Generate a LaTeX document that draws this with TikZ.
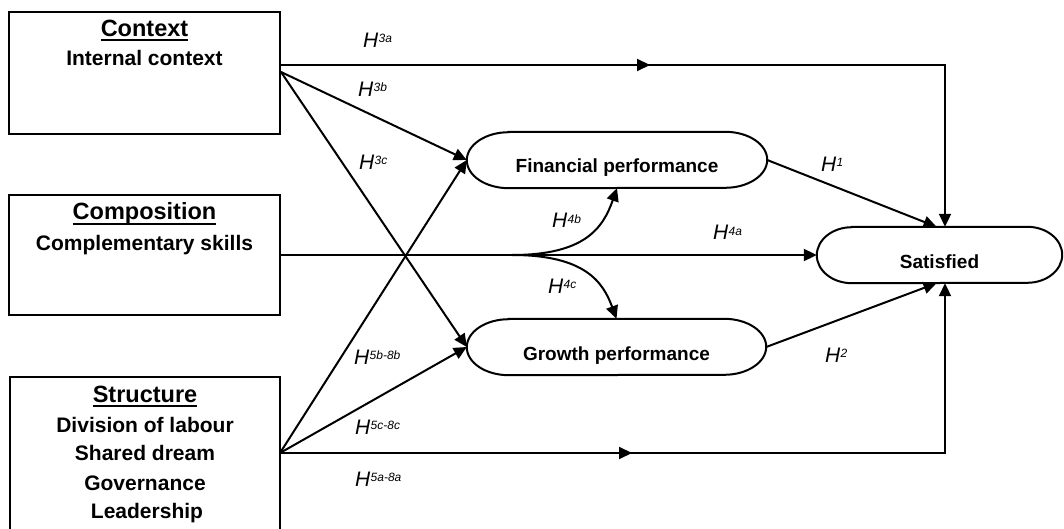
\documentclass[tikz,border=0pt]{standalone}
\usepackage{fontspec}
\setmainfont{Liberation Sans}
\usetikzlibrary{arrows.meta,calc,decorations.markings}

\newcommand\hdul[1]{\setbox0\hbox{#1}\rlap{\rule[-4.5pt]{\wd0}{2pt}}\box0}
\newcommand\hyp[1]{\fontsize{21}{21}\selectfont\itshape H\kern0.3pt\raisebox{5pt}{\fontsize{12}{12}\selectfont #1}}
\newcommand\pillframe[3]{%
  \draw[conn] ($(#1.north west)+(#2,0)$) -- ($(#1.north east)+(-#2,0)$)
    arc[start angle=90,end angle=-90,x radius=#2pt,y radius=#3pt]
    -- ($(#1.south west)+(#2,0)$)
    arc[start angle=270,end angle=90,x radius=#2pt,y radius=#3pt] -- cycle;}

\begin{document}
\begin{tikzpicture}[x=1pt,y=-1pt,
  box/.style={draw, line width=2pt, inner sep=0pt},
  head/.style={anchor=base, inner sep=0pt, font=\fontsize{23.5}{24}\selectfont\bfseries},
  item/.style={anchor=base, inner sep=0pt, font=\fontsize{21}{22}\selectfont\bfseries},
  pilltext/.style={inner sep=0pt, font=\fontsize{19}{20}\selectfont\bfseries, text height=41pt, text depth=15pt},
  lab/.style={anchor=base west, inner sep=0pt},
  conn/.style={line width=2pt},
  arr/.style={conn, -{Triangle[length=13pt,width=12pt]}},
  midarr/.style={postaction={decorate}, decoration={markings, mark=at position #1 with {\arrow{Triangle[length=13pt,width=12pt]}}}},
]
\useasboundingbox (0,0) rectangle (1064,529);
\clip (0,0) rectangle (1064,529);

% boxes
\node[box, minimum width=271pt, minimum height=122pt] (ctx) at (144.5,73) {};
\node[box, minimum width=271pt, minimum height=120pt] (cmp) at (144.5,255) {};
\node[box, minimum width=270pt, minimum height=168pt] (str) at (145,461) {};

\node[head] (ctxH) at (144.5,37) {\hdul{Context}};
\node[item] (ctxI) at (144.5,66) {Internal context};
\node[head] (cmpH) at (144.5,220) {\hdul{Composition}};
\node[item] (cmpI) at (144.5,250) {Complementary skills};
\node[head] (strH) at (145,402) {\hdul{Structure}};
\node[item] (strI1) at (145,432) {Division of labour};
\node[item] (strI2) at (145,460) {Shared dream};
\node[item] (strI3) at (145,490) {Governance};
\node[item] (strI4) at (147,518) {Leadership};

% pills
\node[pilltext, minimum width=300pt] (fin) at (617,160) {Financial performance};
\node[pilltext, minimum width=299pt] (grow) at (616.5,347) {Growth performance};
\node[pilltext, minimum width=245pt] (sat) at (939.5,255) {Satisfied};
\pillframe{fin}{42}{28}
\pillframe{grow}{42}{28}
\pillframe{sat}{35}{28}

% connectors
\coordinate (ctxA) at (280,65);
\coordinate (ctxB) at (281,72);
\coordinate (topC) at (945,65);
\coordinate (cmpA) at (280,255);
\coordinate (split) at (512,255);
\coordinate (strA) at (280,453);
\coordinate (botC) at (945,453);

\draw[arr, midarr=370pt] (ctxA) -- (topC) -- (topC |- sat.north);
\draw[arr] (ctxB) -- (fin.west);
\draw[arr] (ctxB) -- (grow.west);
\draw[arr] (cmpA) -- (sat.west);
\draw[arr] (split) .. controls (585,255) and (603,228) .. (fin.south);
\draw[arr] (split) .. controls (585,255) and (603,282) .. (grow.north);
\draw[arr] (strA) -- (fin.west);
\draw[arr] (strA) -- (grow.west);
\draw[arr, midarr=352pt] (strA) -- (botC) -- (botC |- sat.south);
\draw[arr] (fin.east) -- ($(sat.north)+(-3,0)$);
\draw[arr] (grow.east) -- ($(sat.south)+(-3,0)$);

% labels
\node[lab] (h3a) at (363,48) {\hyp{3a}};
\node[lab] (h3b) at (358,97) {\hyp{3b}};
\node[lab] (h3c) at (359,170) {\hyp{3c}};
\node[lab] (h4b) at (552,228) {\hyp{4b}};
\node[lab] (h4a) at (713,240) {\hyp{4a}};
\node[lab] (h4c) at (548,293) {\hyp{4c}};
\node[lab] (h1) at (821,172) {\hyp{1}};
\node[lab] (h2) at (825,362) {\hyp{2}};
\node[lab] (h5b) at (354,364) {\hyp{5b-8b}};
\node[lab] (h5c) at (355,434) {\hyp{5c-8c}};
\node[lab] (h5a) at (355,486) {\hyp{5a-8a}};
\end{tikzpicture}
\end{document}
